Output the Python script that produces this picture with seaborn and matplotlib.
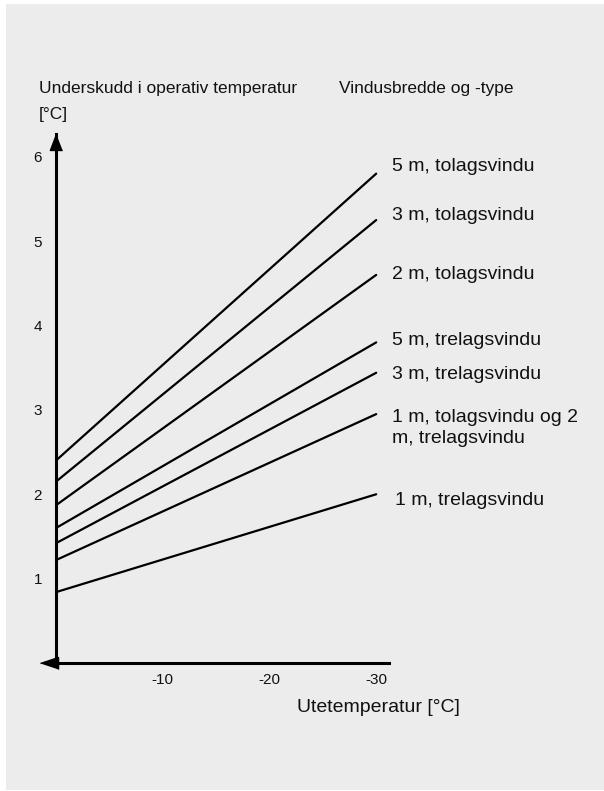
"""
plot.py — Underskudd i operativ temperatur vs. utetemperatur, per vindustype.
"""

import matplotlib
matplotlib.use("Agg")
import matplotlib.pyplot as plt
import matplotlib.transforms as mtransforms
from matplotlib.patches import Rectangle
import pandas as pd
import seaborn as sns

# ── Data ──────────────────────────────────────────────────────────────────────
outdoor_temp = [0, -30]
window_types = [
    "5 m, tolagsvindu",
    "3 m, tolagsvindu",
    "2 m, tolagsvindu",
    "5 m, trelagsvindu",
    "3 m, trelagsvindu",
    "1 m, tolagsvindu og 2\nm, trelagsvindu",
    "1 m, trelagsvindu",
]
deficit_at_0 = [2.40, 2.15, 1.87, 1.60, 1.42, 1.22, 0.84]
deficit_at_30 = [5.80, 5.25, 4.60, 3.80, 3.44, 2.95, 2.00]
y_ticks = [1, 2, 3, 4, 5, 6]
x_ticks = [-10, -20, -30]

# label placement (layout, not data)
label_x = [-31.5, -31.5, -31.5, -31.5, -31.5, -31.5, -31.8]
label_y = [5.88, 5.30, 4.61, 3.82, 3.42, 2.79, 1.93]

W, H = 604, 791
BG = "#ececec"
FONT = ["Liberation Sans", "DejaVu Sans"]

sns.set_style("white")
plt.rcParams["font.family"] = FONT

rows = []
for name, y0, y1 in zip(window_types, deficit_at_0, deficit_at_30):
    rows.append({"type": name, "temp": outdoor_temp[0], "deficit": y0})
    rows.append({"type": name, "temp": outdoor_temp[1], "deficit": y1})
df = pd.DataFrame(rows)


def fx(px):
    return px / W


def fy(py):
    return 1 - py / H


fig = plt.figure(figsize=(W / 100, H / 100), dpi=100, facecolor="white")
fig.patches.append(Rectangle((fx(6), fy(790)), fx(598), 786 / H,
                             transform=fig.transFigure, facecolor=BG,
                             edgecolor="none", zorder=-10))

# axes: x=0 at px 56, y=0 at px 663
ax = fig.add_axes([fx(56), 1 - 663 / H, fx(333), 529 / H])
ax.set_facecolor("none")
ax.set_zorder(1)

sns.lineplot(data=df, x="temp", y="deficit", hue="type",
             palette=["black"] * len(window_types), legend=False,
             linewidth=1.6, ax=ax)

ax.set_xlim(0, -31.2)
ax.set_ylim(0, 6.27)
ax.set_xticks(x_ticks)
ax.set_xticklabels([str(t) for t in x_ticks])
ax.set_yticks(y_ticks)
ax.set_yticklabels([str(t) for t in y_ticks])
ax.set_xlabel("")
ax.set_ylabel("")

for side in ("top", "right"):
    ax.spines[side].set_visible(False)
for side in ("left", "bottom"):
    ax.spines[side].set_linewidth(2.2)
    ax.spines[side].set_color("black")

ax.tick_params(axis="y", direction="in", length=3, width=0.8,
               pad=10, labelsize=11, colors="#111111")
ax.tick_params(axis="x", direction="inout", length=5, width=0.8,
               pad=5, labelsize=11, colors="#111111")
for t in ax.get_xticklines() + ax.get_yticklines():
    t.set_color("black")

# arrow heads
up = mtransforms.offset_copy(ax.transAxes, fig=fig, x=0, y=0, units="dots")
ax.plot(0, 1, marker=[(0, 0), (-1.15, -3), (1.15, -3)], ms=23, color="black",
        transform=up, clip_on=False)
left = mtransforms.offset_copy(ax.transAxes, fig=fig, x=-16, y=0, units="dots")
ax.plot(0, 0, marker=[(0, 0), (3, 1), (3, -1)], ms=26, color="black",
        transform=left, clip_on=False)

for name, lx, ly in zip(window_types, label_x, label_y):
    ax.text(lx, ly, name, fontsize=14, ha="left", va="center",
            linespacing=1.3, clip_on=False, color="#111111")

txt = dict(fontsize=12.5, va="center", ha="left", color="#111111")
fig.text(fx(39), fy(88), "Underskudd i operativ temperatur", **txt)
fig.text(fx(39), fy(114), "[°C]", **txt)
fig.text(fx(339), fy(88), "Vindusbredde og -type", **txt)
fig.text(fx(297), fy(707), "Utetemperatur [°C]", fontsize=14,
         va="center", ha="left", color="#111111")

fig.savefig("out.png", dpi=100, facecolor="white")
